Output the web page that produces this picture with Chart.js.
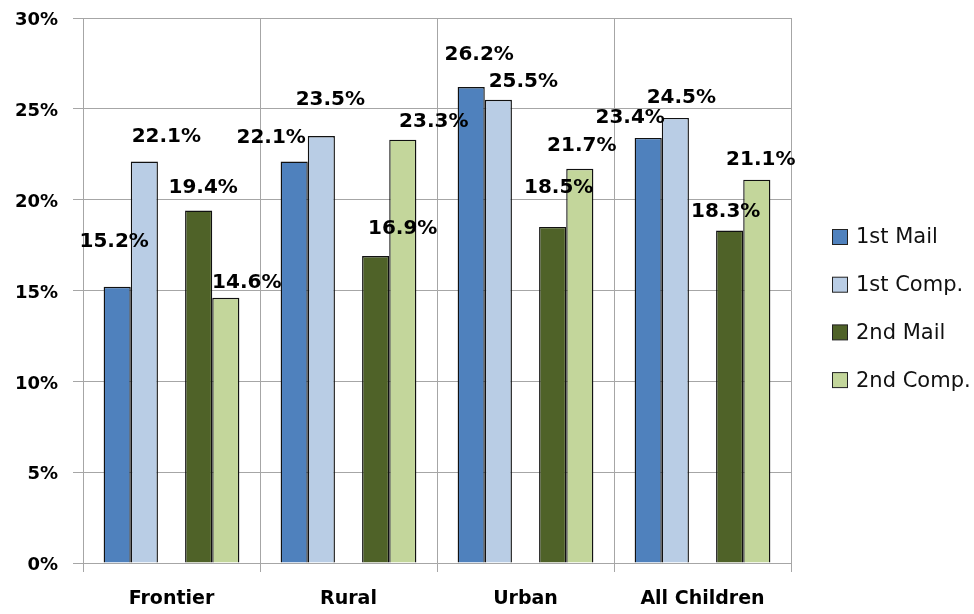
<!DOCTYPE html>
<html>
<head>
<meta charset="utf-8">
<script src="https://cdn.jsdelivr.net/npm/chart.js@4"></script>
<style>
  html, body { margin: 0; padding: 0; background: #fff; }
  canvas { display: block; }
</style>
</head>
<body>
<canvas id="grafico" width="974" height="614"></canvas>
<script>
const categorias = ['Frontier', 'Rural', 'Urban', 'All Children'];
const primeiroCorreio = [15.2, 22.1, 26.2, 23.4];
const primeiroComp = [22.1, 23.5, 25.5, 24.5];
const segundoCorreio = [19.4, 16.9, 18.5, 18.3];
const segundoComp = [14.6, 23.3, 21.7, 21.1];
const ticksY = [0, 5, 10, 15, 20, 25, 30];

// deslocamento dos rotulos (px) em relacao ao topo de cada barra
const desloc = [
  [[-3, -45], [-23, -23.5], [8, -32], [-18, -20]],
  [[22, -25], [9, -36], [25, -18], [6, -20]],
  null,
  [[4.5, -22.5], [27, -27], [6, -39], [-4, -19]],
  [[21, -15], [31, -18], [2, -23], [4, -20]]
];

const rotulos = {
  id: 'rotulos',
  afterDatasetsDraw(chart) {
    const ctx = chart.ctx;
    ctx.save();
    ctx.font = 'bold 20px "DejaVu Sans"';
    ctx.fillStyle = '#000';
    ctx.textAlign = 'center';
    ctx.textBaseline = 'middle';
    chart.data.datasets.forEach((ds, i) => {
      if (ds.espaco) return;
      chart.getDatasetMeta(i).data.forEach((bar, j) => {
        const d = desloc[i][j];
        ctx.fillText(ds.data[j].toFixed(1) + '%', bar.x + d[0], bar.y + d[1]);
      });
    });
    ctx.restore();
  }
};

const legenda = {
  id: 'legenda',
  afterDraw(chart) {
    const ctx = chart.ctx;
    ctx.save();
    ctx.font = '21px "DejaVu Sans"';
    ctx.textBaseline = 'middle';
    let y = 237;
    chart.data.datasets.forEach(ds => {
      if (ds.espaco) return;
      ctx.fillStyle = ds.backgroundColor;
      ctx.fillRect(832.5, y - 7.5, 15, 15);
      ctx.strokeStyle = '#222';
      ctx.lineWidth = 1;
      ctx.strokeRect(832.5, y - 7.5, 15, 15);
      ctx.fillStyle = '#111';
      ctx.fillText(ds.label, 856, y + 1);
      y += 47.7;
    });
    ctx.restore();
  }
};

function serie(label, data, cor) {
  return { label, data, backgroundColor: cor, borderColor: '#111', borderWidth: 1.4 };
}

new Chart(document.getElementById('grafico'), {
  type: 'bar',
  data: {
    labels: categorias,
    datasets: [
      serie('1st Mail', primeiroCorreio, '#4F81BD'),
      serie('1st Comp.', primeiroComp, '#B9CDE5'),
      { label: '', data: categorias.map(() => null), espaco: true },
      serie('2nd Mail', segundoCorreio, '#4F6228'),
      serie('2nd Comp.', segundoComp, '#C3D69B')
    ]
  },
  options: {
    responsive: false,
    animation: false,
    devicePixelRatio: 1,
    layout: { padding: { top: 18, right: 183, bottom: 0, left: 0 } },
    categoryPercentage: 0.767,
    barPercentage: 1.0,
    plugins: { legend: { display: false }, tooltip: { enabled: false } },
    scales: {
      x: {
        grid: { offset: true, color: '#a6a6a6', lineWidth: 1, tickLength: 9 },
        border: { color: '#a6a6a6' },
        ticks: { color: '#000', padding: 16, maxRotation: 0, font: { family: 'DejaVu Sans', size: 19, weight: 'bold' } },
        afterFit(s) { s.height = 51; s.paddingLeft = 0; s.paddingRight = 0; }
      },
      y: {
        min: 0,
        max: 30,
        afterBuildTicks(s) { s.ticks = ticksY.map(v => ({ value: v })); },
        grid: { color: '#a6a6a6', lineWidth: 1, tickLength: 10 },
        border: { color: '#a6a6a6' },
        ticks: {
          color: '#000', padding: 15, labelOffset: 2.5,
          font: { family: 'DejaVu Sans', size: 18, weight: 'bold' },
          callback: v => v + '%'
        },
        afterFit(s) { s.width = 83; s.paddingTop = 0; s.paddingBottom = 0; }
      }
    }
  },
  plugins: [rotulos, legenda]
});
</script>
</body>
</html>
